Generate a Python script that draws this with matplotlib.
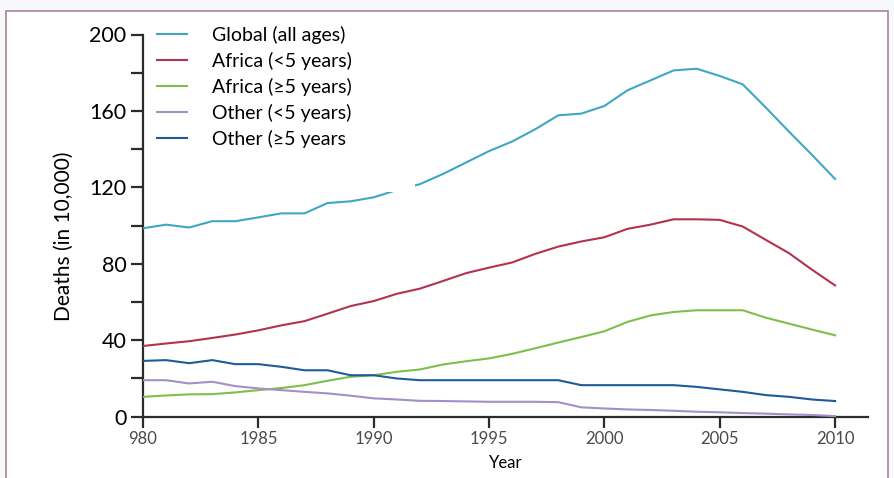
import matplotlib
matplotlib.use("Agg")
import matplotlib.pyplot as plt
from matplotlib.patches import Rectangle
from matplotlib.ticker import FixedLocator, FuncFormatter

plt.rcParams['font.family'] = ['Lato', 'DejaVu Sans']

# deaths in units of 10,000, one value per year 1980-2010
years = list(range(1980, 2011))

global_all = [98.6, 100.5, 99.0, 102.3, 102.3, 104.3, 106.4, 106.4, 111.8, 112.7,
              114.8, 118.6, 121.7, 127.0, 133.0, 139.0, 144.0, 150.4, 157.7, 158.6,
              162.6, 170.8, 176.0, 181.2, 182.1, 178.3, 173.9, 161.7, 149.2, 137.0,
              124.4]
africa_u5 = [37.0, 38.3, 39.5, 41.2, 43.0, 45.2, 47.8, 50.0, 53.9, 57.9,
             60.5, 64.3, 67.0, 71.0, 75.1, 78.0, 80.7, 85.2, 89.0, 91.7,
             93.9, 98.3, 100.5, 103.3, 103.3, 103.0, 99.5, 92.5, 85.6, 76.9,
             68.7]
africa_5plus = [10.4, 11.1, 11.7, 11.8, 12.7, 13.9, 15.0, 16.5, 18.8, 20.9,
                21.7, 23.5, 24.7, 27.3, 29.0, 30.5, 32.9, 35.8, 38.8, 41.7,
                44.7, 49.6, 53.0, 54.8, 55.7, 55.7, 55.7, 51.8, 48.7, 45.6,
                42.6]
other_u5 = [19.1, 19.1, 17.4, 18.3, 16.0, 14.8, 13.9, 13.0, 12.2, 11.0,
            9.6, 9.0, 8.3, 8.2, 8.0, 7.8, 7.8, 7.8, 7.6, 4.9,
            4.3, 3.8, 3.5, 3.1, 2.6, 2.3, 1.9, 1.6, 1.2, 0.9,
            0.3]
other_5plus = [29.2, 29.6, 28.0, 29.6, 27.5, 27.5, 26.1, 24.3, 24.3, 21.7,
               21.7, 20.0, 19.1, 19.1, 19.1, 19.1, 19.1, 19.1, 19.1, 16.5,
               16.5, 16.5, 16.5, 16.5, 15.6, 14.3, 13.0, 11.3, 10.4, 9.0,
               8.2]

series = [
    ("Global (all ages)", global_all, "#3fa7c3"),
    ("Africa (<5 years)", africa_u5, "#b3324f"),
    ("Africa (\u22655 years)", africa_5plus, "#80bd4e"),
    ("Other (<5 years)", other_u5, "#a48fc8"),
    ("Other (\u22655 years", other_5plus, "#1d5c98"),
]

x_ticks = [1980, 1985, 1990, 1995, 2000, 2005, 2010]
x_tick_labels = ["980", "1985", "1990", "1995", "2000", "2005", "2010"]
y_ticks = list(range(0, 201, 20))

W, H = 895, 478
fig = plt.figure(figsize=(W / 100, H / 100), dpi=100, facecolor="#f7f8fa")

# white panel with thin mauve border, kept behind the axes
fig.patches.append(Rectangle((6 / W, -0.02), (888 - 6) / W, (H - 11) / H + 0.02,
                             transform=fig.transFigure, facecolor="white",
                             edgecolor="#a98299", linewidth=1.2, zorder=-5))

ax = fig.add_axes([143 / W, (H - 416.7) / H, (868 - 143) / W, (416.7 - 34.5) / H])
ax.set_zorder(2)
ax.set_facecolor("none")

for label, vals, col in series:
    ax.plot(years, vals, color=col, linewidth=1.5, label=label, zorder=3)

ax.set_xlim(1980, 1980 + (868 - 143) / 23.07)
ax.set_ylim(0, 200)

for s in ["top", "right"]:
    ax.spines[s].set_visible(False)
for s in ["left", "bottom"]:
    ax.spines[s].set_color("#2b2b2b")
    ax.spines[s].set_linewidth(1.6)

ax.xaxis.set_major_locator(FixedLocator(x_ticks))
ax.set_xticklabels(x_tick_labels)
ax.yaxis.set_major_locator(FixedLocator(y_ticks))
ax.yaxis.set_major_formatter(FuncFormatter(lambda v, p: f"{int(v)}" if v % 40 == 0 else ""))

ax.tick_params(axis="x", direction="out", length=8, width=1.6, color="#2b2b2b",
               labelsize=12, labelcolor="#4a4a4a", pad=2)
ax.tick_params(axis="y", direction="out", length=9, width=1.6, color="#2b2b2b",
               labelsize=15.5, labelcolor="black", pad=3)

ax.set_xlabel("Year", fontsize=12, color="black", labelpad=6)
ax.set_ylabel("Deaths (in 10,000)", fontsize=15, color="black")
ax.yaxis.set_label_coords(-0.096, 0.473)

# white backing behind the legend labels hides the line where it passes
ax.add_patch(Rectangle(((190 - 143) / 725, (416.7 - 192) / 382.2),
                       (415 - 190) / 725, (192 - 20) / 382.2,
                       transform=ax.transAxes, facecolor="white",
                       edgecolor="none", zorder=4, clip_on=False))

leg = ax.legend(loc="upper left", bbox_to_anchor=(0.02, 1.022), frameon=False,
                fontsize=14, handlelength=1.5, handletextpad=1.3,
                labelspacing=0.4, borderpad=0, borderaxespad=0)
leg.set_zorder(5)

fig.savefig("out.png", dpi=100, facecolor=fig.get_facecolor())
